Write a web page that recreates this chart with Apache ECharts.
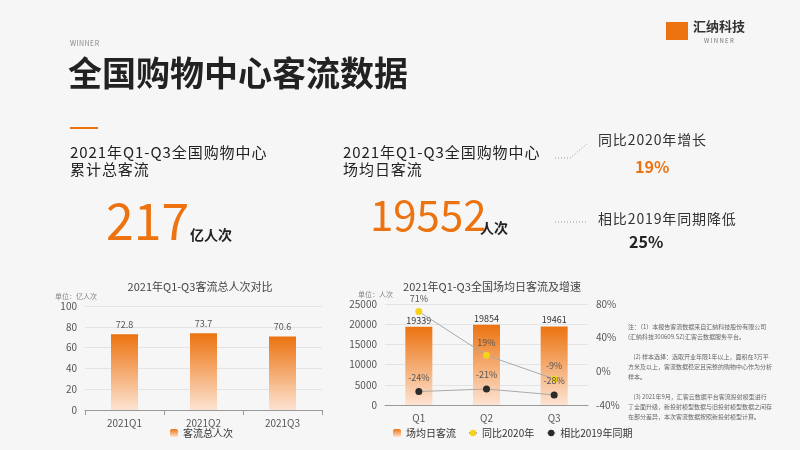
<!DOCTYPE html><html><head><meta charset="utf-8"><script src="https://cdn.jsdelivr.net/npm/echarts@6/dist/echarts.min.js"></script>
<style>html,body{margin:0;background:#f6f6f6}#c{width:800px;height:450px}</style></head><body><div id="c"></div><script>
const cats1=['2021Q1','2021Q2','2021Q3'];
const total=[72.8,73.7,70.6];
const cats2=['Q1','Q2','Q3'];
const daily=[19339,19854,19461];
const yoy2020=[71,19,-9];
const vs2019=[-24,-21,-28];
const F='"Noto Sans CJK SC","Noto Sans",sans-serif';
const sp=s=>s.split('').join('\u200a');
const grad={type:'linear',x:0,y:0,x2:0,y2:1,colorStops:[{offset:0,color:'#ec7310'},{offset:1,color:'#fde3d2'}]};
const c=echarts.init(document.getElementById('c'));
const axL={color:'#555',fontSize:10,fontFamily:F};
const T=(x,y,t,s,o)=>Object.assign({type:'text',left:x,top:y,style:Object.assign({text:t,fontSize:s,fill:'#333',fontFamily:F},o||{})});
c.setOption({backgroundColor:'#f6f6f6',textStyle:{fontFamily:F},
title:[{text:'2021年Q1-Q3客流总人次对比',left:195,top:276,textAlign:'center',textStyle:{fontSize:11,fontWeight:'normal',color:'#444'}},
{text:'2021年Q1-Q3全国场均日客流及增速',left:487,top:276,textAlign:'center',textStyle:{fontSize:11,fontWeight:'normal',color:'#444'}}],
legend:[{data:['客流总人次'],left:165,top:423,itemWidth:8,itemHeight:8,textStyle:{fontSize:10,color:'#333'}},
{data:['场均日客流','同比2020年','相比2019年同期'],left:388,top:423,itemWidth:8,itemHeight:8,itemGap:12,textStyle:{fontSize:10,color:'#333'}}],
grid:[{left:85,top:306,width:237,height:104},{left:385,top:304,width:203,height:101}],
xAxis:[{type:'category',data:cats1,gridIndex:0,axisTick:{show:true},axisLine:{lineStyle:{color:'#999'}},axisLabel:axL},
{type:'category',data:cats2,gridIndex:1,axisLine:{lineStyle:{color:'#999'}},axisLabel:axL}],
yAxis:[{type:'value',gridIndex:0,min:0,max:100,interval:20,axisLabel:axL,splitLine:{lineStyle:{color:'#e4e4e4'}},name:'单位：亿人次',nameTextStyle:{fontSize:7,color:'#888',align:'right',padding:[0,-12,0,0]},nameGap:6},
{type:'value',gridIndex:1,min:0,max:25000,interval:5000,axisLabel:Object.assign({formatter:v=>String(v)},axL),splitLine:{lineStyle:{color:'#e4e4e4'}},name:'单位：人次',nameTextStyle:{fontSize:7,color:'#888',align:'right',padding:[0,-8,0,0]},nameGap:6},
{type:'value',gridIndex:1,min:-40,max:80,interval:40,position:'right',axisLabel:Object.assign({formatter:'{value}%'},axL),splitLine:{show:false}}],
series:[{name:'客流总人次',type:'bar',xAxisIndex:0,yAxisIndex:0,data:total,barWidth:27,itemStyle:{color:grad},label:{show:true,position:'top',fontSize:9,color:'#555'}},
{name:'场均日客流',type:'bar',xAxisIndex:1,yAxisIndex:1,data:daily,barWidth:27,itemStyle:{color:grad},label:{show:true,position:'top',fontSize:9,color:'#333',distance:2}},
{name:'同比2020年',type:'line',xAxisIndex:1,yAxisIndex:2,data:yoy2020,symbol:'circle',symbolSize:7,itemStyle:{color:'#f7d21a'},lineStyle:{color:'#aaa',width:1},label:{show:true,position:'top',formatter:'{c}%',fontSize:9,color:'#555'}},
{name:'相比2019年同期',type:'line',xAxisIndex:1,yAxisIndex:2,data:vs2019,symbol:'circle',symbolSize:7,itemStyle:{color:'#2b2b2b'},lineStyle:{color:'#aaa',width:1},label:{show:true,position:'top',formatter:'{c}%',fontSize:9,color:'#555',distance:6}}],
graphic:[
T(70,40,sp('WINNER'),7,{fill:'#888'}),
T(68,56,'全国购物中心客流数据',34,{fontWeight:'bold',fill:'#222'}),
{type:'rect',left:70,top:127,shape:{width:28,height:2},style:{fill:'#ec7310'}},
T(70,145,sp('2021年Q1-Q3全国购物中心'),15,{fill:'#222'}),
T(70,162,sp('累计总客流'),15,{fill:'#222'}),
T(106,196,'217',50,{fill:'#ec7310'}),
T(190,228,'亿人次',14,{fontWeight:'bold',fill:'#222'}),
T(343,145,sp('2021年Q1-Q3全国购物中心'),15,{fill:'#222'}),
T(343,162,sp('场均日客流'),15,{fill:'#222'}),
T(370,194,'19552',42,{fill:'#ec7310'}),
T(480,221,'人次',14,{fontWeight:'bold',fill:'#222'}),
{type:'polyline',shape:{points:[[555,158],[570,158],[588,143]]},style:{stroke:'#999',lineDash:[1,2],lineWidth:1}},
{type:'polyline',shape:{points:[[555,222],[588,222]]},style:{stroke:'#999',lineDash:[1,2],lineWidth:1}},
T(598,133,sp('同比2020年增长'),14,{fill:'#333'}),
T(635,159,'19%',16,{fontWeight:'bold',fill:'#ec7310'}),
T(598,212,sp('相比2019年同期降低'),14,{fill:'#333'}),
T(629,234,'25%',16,{fontWeight:'bold',fill:'#222'}),
T(693,20,'汇纳科技',13,{fontWeight:'bold',fill:'#333'}),
T(704,38,'W I N N E R',6,{fill:'#777'}),
{type:'rect',left:666,top:22,shape:{width:22,height:18},style:{fill:'#ec7310'}},
T(628,322,'注：（1）本报告客流数据来自汇纳科技股份有限公司\n(汇纳科技300609.SZ)汇客云数据服务平台。\n\n    (2) 样本选择：选取开业年限1年以上，面积在3万平\n方米及以上，客流数据稳定且完整的购物中心作为分析\n样本。\n\n    (3) 2021年9月，汇客云数据平台客流投射模型进行\n了全面升级，新投射模型数据与旧投射模型数据之间存\n在部分差异，本次客流数据按照新投射模型计算。',6,{fill:'#666',lineHeight:10})
]});
</script></body></html>
